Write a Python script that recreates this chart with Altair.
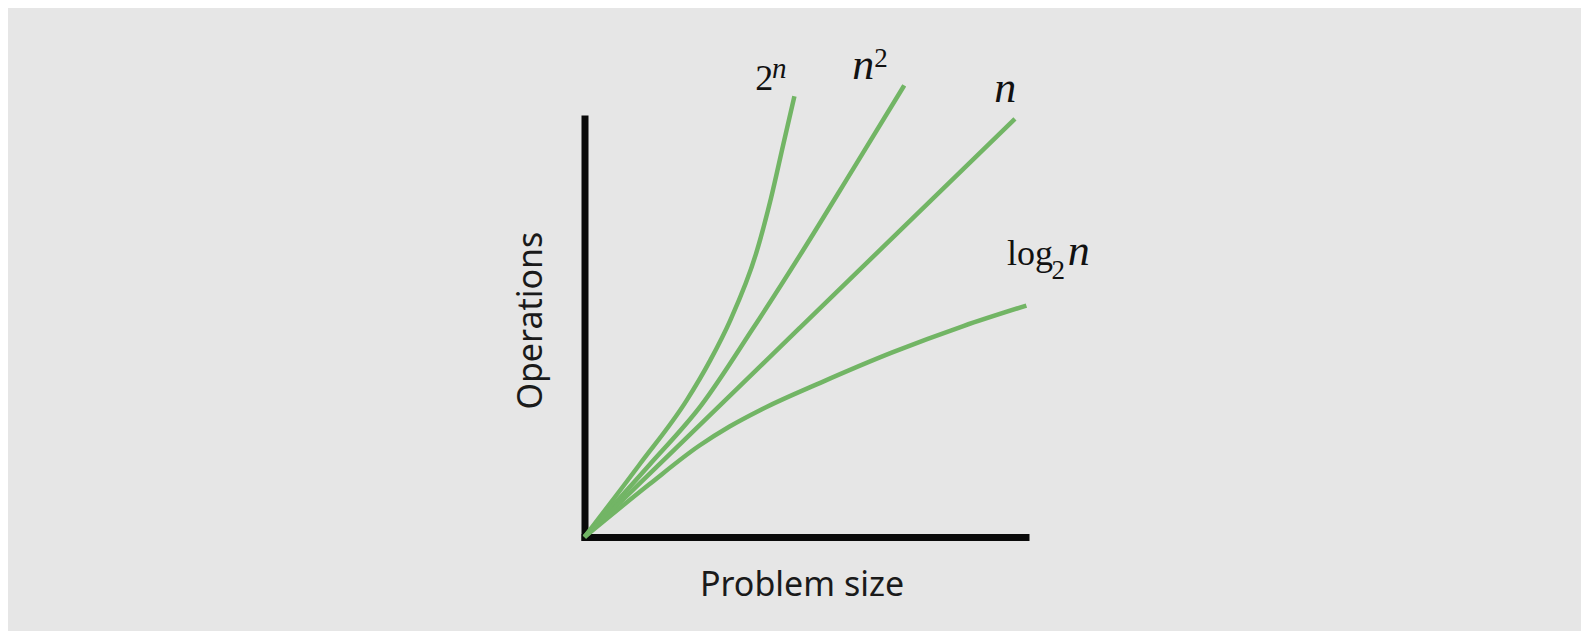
import altair as alt
import pandas as pd

# ---- data (arbitrary units: problem size 0-100, operations 0-100) ----
exp_x = [0, 12.4, 23.2, 28.5, 33.1, 38.9, 42.3, 45.1, 47.6]
exp_y = [0, 17.2, 32.7, 42.2, 51.9, 67.7, 81.0, 93.9, 105.3]

sq_x = [0, 14.7, 26.5, 38.0, 49.5, 61.0, 72.5]
sq_y = [0, 17.2, 31.5, 49.5, 68.4, 88.1, 107.9]

lin_x = [0, 48.8, 97.6]
lin_y = [0, 49.95, 99.9]

log_x = [0, 14.7, 26.0, 32.9, 39.8, 53.6, 69.8, 85.9, 100.2]
log_y = [0, 12.6, 21.8, 26.4, 30.3, 36.9, 44.1, 50.4, 55.3]

# label pieces: (text, x, y, size)
roman_text = ["2", "2", "log", "2"]
roman_x = [38.7, 65.7, 95.8, 105.9]
roman_y = [106.8, 112.3, 65.0, 61.6]
roman_size = [36, 27, 36, 27]

italic_text = ["n", "n", "n", "n"]
italic_x = [42.5, 60.7, 92.9, 109.6]
italic_y = [109.7, 109.4, 103.9, 65.0]
italic_size = [29, 44, 44, 44]

rows = []
for name, xs, ys in [("2^n", exp_x, exp_y), ("n^2", sq_x, sq_y),
                     ("n", lin_x, lin_y), ("log2n", log_x, log_y)]:
    for i, (a, b) in enumerate(zip(xs, ys)):
        rows.append({"series": name, "idx": i, "size": a, "ops": b})
lines_df = pd.DataFrame(rows)

roman_df = pd.DataFrame({"t": roman_text, "x": roman_x, "y": roman_y, "s": roman_size})
italic_df = pd.DataFrame({"t": italic_text, "x": italic_x, "y": italic_y, "s": italic_size})

GREEN = "#72b565"
xscale = alt.Scale(domain=[0, 100], nice=False, zero=True)
yscale = alt.Scale(domain=[0, 100], nice=False, zero=True)

axis_common = dict(
    domain=True, domainColor="#0a0a0a", domainWidth=7, domainCap="square",
    ticks=False, labels=False, grid=False,
    titleFont="Noto Sans", titleFontSize=34, titleFontWeight="normal",
    titleColor="#1a1a1a",
)

lines = alt.Chart(lines_df).mark_line(
    color=GREEN, strokeWidth=4.5, interpolate="monotone"
).encode(
    x=alt.X("size:Q", scale=xscale,
            axis=alt.Axis(title="Problem size", titlePadding=31, titleX=217, **axis_common)),
    y=alt.Y("ops:Q", scale=yscale,
            axis=alt.Axis(title="Operations", titlePadding=36.5, titleY=201.6, **axis_common)),
    detail="series:N",
    order="idx:Q",
)

roman = alt.Chart(roman_df).mark_text(
    font="Liberation Serif", align="left", baseline="alphabetic", color="#111111"
).encode(
    x=alt.X("x:Q", scale=xscale),
    y=alt.Y("y:Q", scale=yscale),
    text="t:N",
    size=alt.Size("s:Q", scale=None),
)

italic = alt.Chart(italic_df).mark_text(
    font="Liberation Serif", fontStyle="italic", align="left", baseline="alphabetic",
    color="#111111"
).encode(
    x=alt.X("x:Q", scale=xscale),
    y=alt.Y("y:Q", scale=yscale),
    text="t:N",
    size=alt.Size("s:Q", scale=None),
)

chart = alt.layer(lines, roman, italic).properties(
    width=441, height=418.5,
    autosize="none",
    padding={"left": 576.5, "top": 110.5, "right": 555.5, "bottom": 94},
    background="#e6e6e6",
).configure_view(strokeWidth=0)

chart.save("out.html", embed_options={"renderer": "svg", "actions": False})
